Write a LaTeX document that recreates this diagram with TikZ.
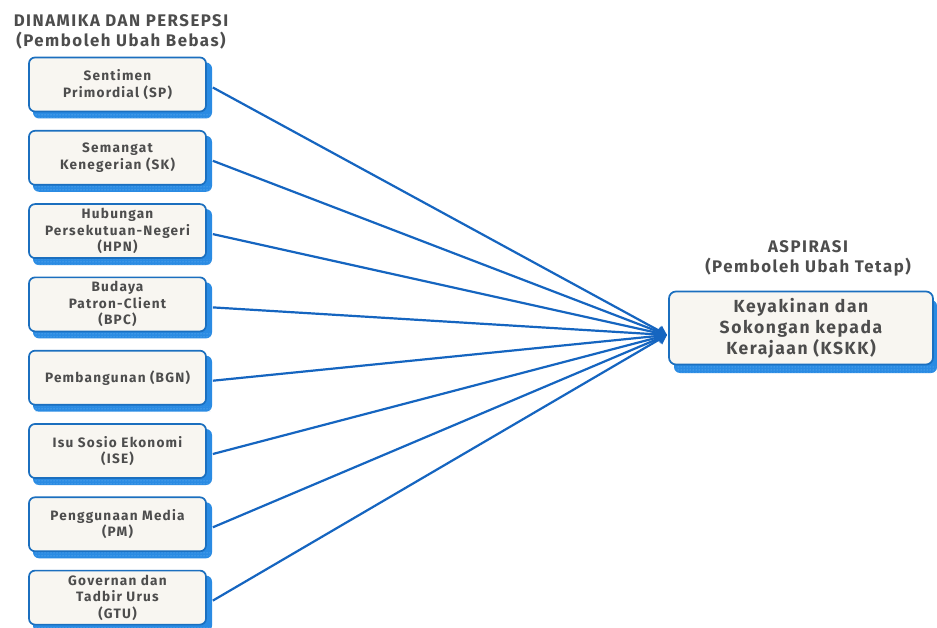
\documentclass[tikz,border=0pt]{standalone}
\usepackage{fontspec}
\setmainfont{Fira Sans}
\newfontfamily\spacedfont[LetterSpace=9]{Fira Sans}
\usetikzlibrary{arrows.meta,patterns}
\definecolor{txtgray}{HTML}{4D4D4D}
\definecolor{bordblue}{HTML}{1B6FBF}
\definecolor{shadblue}{HTML}{2A8BE3}
\definecolor{dotblue}{HTML}{7FBFF5}
\definecolor{boxfill}{HTML}{F8F6F1}
\definecolor{linkblue}{HTML}{1565C0}
\tikzset{
  leftbox/.style={draw=bordblue, line width=1.7pt, fill=boxfill, rounded corners=6pt,
    minimum width=177pt, minimum height=54pt, align=center, text=txtgray,
    font=\spacedfont\bfseries\fontsize{13.6}{16.5}\selectfont, inner sep=0pt},
  rightbox/.style={draw=bordblue, line width=1.7pt, fill=boxfill, rounded corners=7pt,
    minimum width=264pt, minimum height=73pt, align=center, text=txtgray,
    font=\spacedfont\fontsize{17.5}{21}\selectfont\bfseries, inner sep=0pt},
  shadowbox/.style={fill=shadblue, rounded corners=6pt},
  heading/.style={text=txtgray, align=center, font=\spacedfont\bfseries\fontsize{16.8}{20}\selectfont},
  link/.style={draw=linkblue, line width=2.2pt, -{Triangle[length=9pt,width=11pt]}}
}
\begin{document}
\begin{tikzpicture}[x=1pt,y=1pt]
\useasboundingbox[fill=white] (0,0) rectangle (937,-628);

\node[heading] (t1) at (121,-32) {DINAMIKA DAN PERSEPSI\\(Pemboleh Ubah Bebas)};
\node[heading] (t2) at (808,-258) {ASPIRASI\\(Pemboleh Ubah Tetap)};

% shadows
\foreach \cy in {84.5,157.8,231.1,304.4,377.7,451,524.3,597.6} {
  \fill[shadowbox] (33,-\cy+22) rectangle (212,-\cy-34);
  \fill[pattern=dots, pattern color=dotblue] (35,-\cy-28.5) rectangle (210,-\cy-33.5);
}
\fill[shadowbox] (674,-300) rectangle (937,-373);
\fill[pattern=dots, pattern color=dotblue] (676,-366) rectangle (936,-372);

\node[leftbox] (sp) at (117.5,-84.5) {Sentimen\\Primordial (SP)};
\node[leftbox] (sk) at (117.5,-157.8) {Semangat\\Kenegerian (SK)};
\node[leftbox] (hpn) at (117.5,-231.1) {Hubungan\\Persekutuan-Negeri\\(HPN)};
\node[leftbox] (bpc) at (117.5,-304.4) {Budaya\\Patron-Client\\(BPC)};
\node[leftbox] (bgn) at (117.5,-377.7) {Pembangunan (BGN)};
\node[leftbox] (ise) at (117.5,-451) {Isu Sosio Ekonomi\\(ISE)};
\node[leftbox] (pm) at (117.5,-524.3) {Penggunaan Media\\(PM)};
\node[leftbox] (gtu) at (117.5,-597.6) {Governan dan\\Tadbir Urus\\(GTU)};

\node[rightbox] (kskk) at (801,-328) {Keyakinan dan\\Sokongan kepada\\Kerajaan (KSKK)};

\coordinate (hub) at (667,-335);
\foreach \n in {sp,sk,hpn,bpc,bgn,ise,pm,gtu} {
  \draw[link] ([xshift=6pt,yshift=-3pt]\n.east) -- (hub);
}
\end{tikzpicture}
\end{document}
